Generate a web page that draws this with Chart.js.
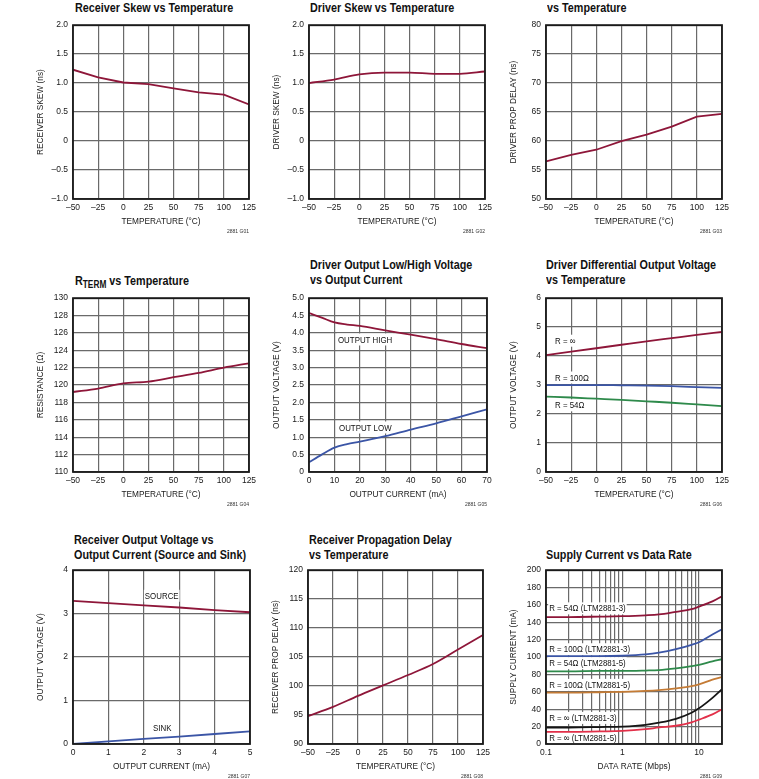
<!DOCTYPE html>
<html>
<head>
<meta charset="utf-8">
<script src="https://cdn.jsdelivr.net/npm/chart.js@4.4.0/dist/chart.umd.min.js"></script>
<style>
  body { margin: 0; background: #fff; width: 759px; height: 779px; overflow: hidden; position: relative; }
  .ttl { position: absolute; font-family: 'Liberation Sans', Arial, sans-serif; font-weight: bold;
         font-size: 13px; line-height: 15px; color: #111; white-space: nowrap;
         transform: scaleX(0.83); transform-origin: 0 0; }
  .ttl sub { font-size: 10px; vertical-align: -3px; line-height: 0; }
  .fn { position: absolute; font-family: 'Liberation Sans', sans-serif; font-size: 5px; color: #333; text-align: right; width: 60px; }
  canvas { position: absolute; }
</style>
</head>
<body>
<div class="ttl" style="left:75px;top:0px">Receiver Skew vs Temperature</div>
<div class="ttl" style="left:310px;top:0px">Driver Skew vs Temperature</div>
<div class="ttl" style="left:547px;top:0px">vs Temperature</div>
<div class="ttl" style="left:75px;top:273px">R<sub>TERM</sub> vs Temperature</div>
<div class="ttl" style="left:310px;top:257px">Driver Output Low/High Voltage<br>vs Output Current</div>
<div class="ttl" style="left:546px;top:257px">Driver Differential Output Voltage<br>vs Temperature</div>
<div class="ttl" style="left:74px;top:532px">Receiver Output Voltage vs<br>Output Current (Source and Sink)</div>
<div class="ttl" style="left:309px;top:532px">Receiver Propagation Delay<br>vs Temperature</div>
<div class="ttl" style="left:546px;top:547px">Supply Current vs Data Rate</div>
<script>
/* ---------- DATA ---------- */
const tempC = [-50, -25, 0, 25, 50, 75, 100, 125];
const rxSkew = [1.23, 1.10, 1.01, 0.98, 0.91, 0.84, 0.80, 0.63];
const drvSkew = [1.00, 1.06, 1.15, 1.18, 1.18, 1.16, 1.16, 1.20];
const drvProp = [56.5, 57.6, 58.5, 60.0, 61.1, 62.5, 64.2, 64.7];
const rterm = [119.2, 119.6, 120.2, 120.4, 120.9, 121.4, 122.0, 122.5];

const drvCurrent = [0, 5, 10, 15, 20, 30, 40, 50, 60, 70];
const outHigh = [4.57, 4.44, 4.30, 4.24, 4.20, 4.07, 3.95, 3.82, 3.68, 3.56];
const outLow = [0.28, 0.50, 0.70, 0.80, 0.87, 1.03, 1.22, 1.40, 1.60, 1.80];

const diffInf = [4.03, 4.15, 4.27, 4.39, 4.51, 4.62, 4.73, 4.83];
const diff100 = [3.00, 3.00, 3.00, 2.99, 2.98, 2.96, 2.93, 2.90];
const diff54 = [2.60, 2.57, 2.53, 2.49, 2.44, 2.39, 2.33, 2.27];

const rxCurrent = [0, 1, 2, 3, 4, 5];
const rxSource = [3.29, 3.24, 3.19, 3.14, 3.08, 3.03];
const rxSink = [0.00, 0.06, 0.12, 0.17, 0.23, 0.29];

const rxProp = [94.8, 96.4, 98.3, 100.1, 101.9, 103.8, 106.3, 108.8];

const dataRate = [0.1, 0.2, 0.5, 1, 2, 3, 5, 8, 10, 15, 20];
const icc54_3 = [146, 146, 146.5, 147, 148, 149, 152, 155, 158, 164, 170];
const icc100_3 = [101, 101, 101, 101.5, 103, 105, 109, 114, 117, 126, 132];
const icc54_5 = [83.5, 83.5, 84, 84, 84.5, 85, 87, 89.5, 91, 95, 97.5];
const icc100_5 = [59, 59, 59.5, 60, 61, 62, 64, 66.5, 68.5, 74, 77];
const iccInf_3 = [19, 19, 19.5, 20, 22, 24.5, 29, 36, 41, 53, 63];
const iccInf_5 = [14, 14, 14.5, 15, 17, 19, 21, 25, 28, 34, 40];
const rateTicks = [0.1, 0.2, 0.3, 0.4, 0.5, 0.6, 0.7, 0.8, 0.9, 1, 2, 3, 4, 5, 6, 7, 8, 9, 10, 20];
const rateLabels = { 0.1: '0.1', 1: '1', 10: '10' };

// curve labels: [text, x, y] in data units
const g05Labels = [['OUTPUT HIGH', 11.4, 3.81], ['OUTPUT LOW', 11.8, 1.28]];
const g06Labels = [['R = ∞', -41, 4.53], ['R = 100Ω', -41, 3.26], ['R = 54Ω', -41, 2.30]];
const g07Labels = [['SOURCE', 2.03, 3.41], ['SINK', 2.26, 0.36]];
const g09Labels = [
  ['R = 54Ω (LTM2881-3)', 0.11, 156], ['R = 100Ω (LTM2881-3)', 0.11, 109],
  ['R = 54Ω (LTM2881-5)', 0.11, 93], ['R = 100Ω (LTM2881-5)', 0.11, 68],
  ['R = ∞ (LTM2881-3)', 0.11, 30], ['R = ∞ (LTM2881-5)', 0.11, 7]
];

/* ---------- STYLE ---------- */
const MAROON = '#8e1639';
const BLUE = '#3b55a6';
const GREEN = '#2e8a4b';
const ORANGE = '#c47b35';
const BLACK = '#151515';
const RED = '#e23049';
const GRID = '#6a6a6a';
const TICK_FONT = { family: "'Liberation Sans', Arial, sans-serif", size: 8.5 };
const AXIS_FONT = { family: "'Liberation Sans', Arial, sans-serif", size: 8.3 };
const LABEL_FONT = "9.5px 'Liberation Sans', Arial, sans-serif";
const LABEL_SQUEEZE = 0.83;

const dash = v => (v < 0 ? '\u2013' + Math.abs(v) : String(v));
const oneDec = v => (Math.abs(v) < 1e-9 ? '0' : (v < 0 ? '\u2013' : '') + Math.abs(v).toFixed(1));

const pts = (xs, ys) => xs.map((x, i) => ({ x, y: ys[i] }));

/* ---------- PLUGINS ---------- */
const framePlugin = {
  id: 'frame',
  afterDraw(chart) {
    const { ctx, chartArea: a } = chart;
    ctx.save();
    ctx.strokeStyle = '#1a1a1a';
    ctx.lineWidth = 1.8;
    ctx.strokeRect(a.left, a.top, a.right - a.left, a.bottom - a.top);
    ctx.restore();
  }
};

const labelPlugin = {
  id: 'curveLabels',
  beforeDatasetsDraw(chart, args, opts) {
    const items = opts.items || [];
    const { ctx, scales: { x, y } } = chart;
    ctx.save();
    ctx.font = LABEL_FONT;
    ctx.textBaseline = 'middle';
    items.forEach(([text, vx, vy]) => {
      const px = x.getPixelForValue(vx);
      const py = y.getPixelForValue(vy);
      const w = ctx.measureText(text).width * LABEL_SQUEEZE;
      ctx.fillStyle = '#fff';
      ctx.fillRect(px - 1, py - 6, w + 2, 12);
      ctx.save();
      ctx.translate(px, py + 0.5);
      ctx.scale(LABEL_SQUEEZE, 1);
      ctx.fillStyle = '#111';
      ctx.fillText(text, 0, 0);
      ctx.restore();
    });
    ctx.restore();
  }
};

/* ---------- BUILDER ---------- */
const Y_W = 50, X_H = 32, PAD_T = 8, PAD_R = 14, PAD_B = 4;

function axis(opts, isX) {
  const base = {
    type: opts.type || 'linear',
    min: opts.min,
    max: opts.max,
    grid: { color: GRID, lineWidth: 1.2, drawTicks: false },
    border: { display: false },
    ticks: {
      color: '#1a1a1a', font: TICK_FONT, autoSkip: false, maxRotation: 0,
      padding: isX ? 4 : 5,
      stepSize: opts.step,
      callback: opts.fmt || (v => dash(v))
    },
    title: {
      display: true, text: opts.title, color: '#1a1a1a', font: AXIS_FONT,
      padding: isX ? { top: 0, bottom: 4 } : { top: 13, bottom: 0 }
    },
    afterFit(s) { if (isX) s.height = X_H; else s.width = Y_W; }
  };
  if (opts.ticksAt) base.afterBuildTicks = s => { s.ticks = opts.ticksAt.map(v => ({ value: v })); };
  return base;
}

function plot(box, xOpt, yOpt, sets, labels, smooth) {
  const cv = document.createElement('canvas');
  const W = box.w + Y_W + PAD_R, H = box.h + X_H + PAD_T + PAD_B;
  cv.width = W; cv.height = H;
  cv.style.left = (box.l - Y_W) + 'px';
  cv.style.top = (box.t - PAD_T) + 'px';
  cv.style.width = W + 'px'; cv.style.height = H + 'px';
  document.body.appendChild(cv);

  const fn = document.createElement('div');
  fn.className = 'fn';
  fn.textContent = box.fn;
  fn.style.left = (box.l + box.w - 60) + 'px';
  fn.style.top = (box.t + box.h + 29) + 'px';
  document.body.appendChild(fn);

  new Chart(cv, {
    type: 'line',
    data: {
      datasets: sets.map(([data, color]) => ({
        data, borderColor: color, borderWidth: 1.8, pointRadius: 0, fill: false,
        tension: smooth ? 0.4 : 0, cubicInterpolationMode: smooth ? 'monotone' : 'default'
      }))
    },
    options: {
      responsive: false, animation: false, devicePixelRatio: 1,
      layout: { padding: { top: PAD_T, right: PAD_R, bottom: PAD_B, left: 0 } },
      plugins: { legend: { display: false }, tooltip: { enabled: false }, curveLabels: { items: labels || [] } },
      scales: { x: axis(xOpt, true), y: axis(yOpt, false) }
    },
    plugins: [framePlugin, labelPlugin]
  });
}

const tempAxis = { min: -50, max: 125, step: 25, title: 'TEMPERATURE (°C)' };

/* ---------- ROW 1 ---------- */
plot({ l: 73, t: 23, w: 176, h: 176, fn: '2881 G01' }, tempAxis,
  { min: -1, max: 2, step: 0.5, title: 'RECEIVER SKEW (ns)', fmt: oneDec },
  [[pts(tempC, rxSkew), MAROON]], null, false);

plot({ l: 309, t: 23, w: 176, h: 176, fn: '2881 G02' }, tempAxis,
  { min: -1, max: 2, step: 0.5, title: 'DRIVER SKEW (ns)', fmt: oneDec },
  [[pts(tempC, drvSkew), MAROON]], null, true);

plot({ l: 546, t: 23, w: 176, h: 176, fn: '2881 G03' }, tempAxis,
  { min: 50, max: 80, step: 5, title: 'DRIVER PROP DELAY (ns)' },
  [[pts(tempC, drvProp), MAROON]], null, false);

/* ---------- ROW 2 ---------- */
plot({ l: 73, t: 296, w: 176, h: 176, fn: '2881 G04' }, tempAxis,
  { min: 110, max: 130, step: 2, title: 'RESISTANCE (Ω)' },
  [[pts(tempC, rterm), MAROON]], null, true);

plot({ l: 309, t: 296, w: 178, h: 176, fn: '2881 G05' },
  { min: 0, max: 70, step: 10, title: 'OUTPUT CURRENT (mA)' },
  { min: 0, max: 5, step: 0.5, title: 'OUTPUT VOLTAGE (V)', fmt: oneDec },
  [[pts(drvCurrent, outHigh), MAROON], [pts(drvCurrent, outLow), BLUE]], g05Labels, true);

plot({ l: 546, t: 296, w: 176, h: 176, fn: '2881 G06' }, tempAxis,
  { min: 0, max: 6, step: 1, title: 'OUTPUT VOLTAGE (V)' },
  [[pts(tempC, diffInf), MAROON], [pts(tempC, diff100), BLUE], [pts(tempC, diff54), GREEN]], g06Labels, true);

/* ---------- ROW 3 ---------- */
plot({ l: 73, t: 568, w: 177, h: 176, fn: '2881 G07' },
  { min: 0, max: 5, step: 1, title: 'OUTPUT CURRENT (mA)' },
  { min: 0, max: 4, step: 1, title: 'OUTPUT VOLTAGE (V)' },
  [[pts(rxCurrent, rxSource), MAROON], [pts(rxCurrent, rxSink), BLUE]], g07Labels, false);

plot({ l: 308, t: 568, w: 175, h: 176, fn: '2881 G08' }, tempAxis,
  { min: 90, max: 120, step: 5, title: 'RECEIVER PROP DELAY (ns)' },
  [[pts(tempC, rxProp), MAROON]], null, true);

plot({ l: 546, t: 568, w: 176, h: 176, fn: '2881 G09' },
  { type: 'logarithmic', min: 0.1, max: 20, title: 'DATA RATE (Mbps)', ticksAt: rateTicks,
    fmt: v => rateLabels[v] || '' },
  { min: 0, max: 200, step: 20, title: 'SUPPLY CURRENT (mA)' },
  [[pts(dataRate, icc54_3), MAROON], [pts(dataRate, icc100_3), BLUE], [pts(dataRate, icc54_5), GREEN],
   [pts(dataRate, icc100_5), ORANGE], [pts(dataRate, iccInf_3), BLACK], [pts(dataRate, iccInf_5), RED]],
  g09Labels, true);
</script>
</body>
</html>
